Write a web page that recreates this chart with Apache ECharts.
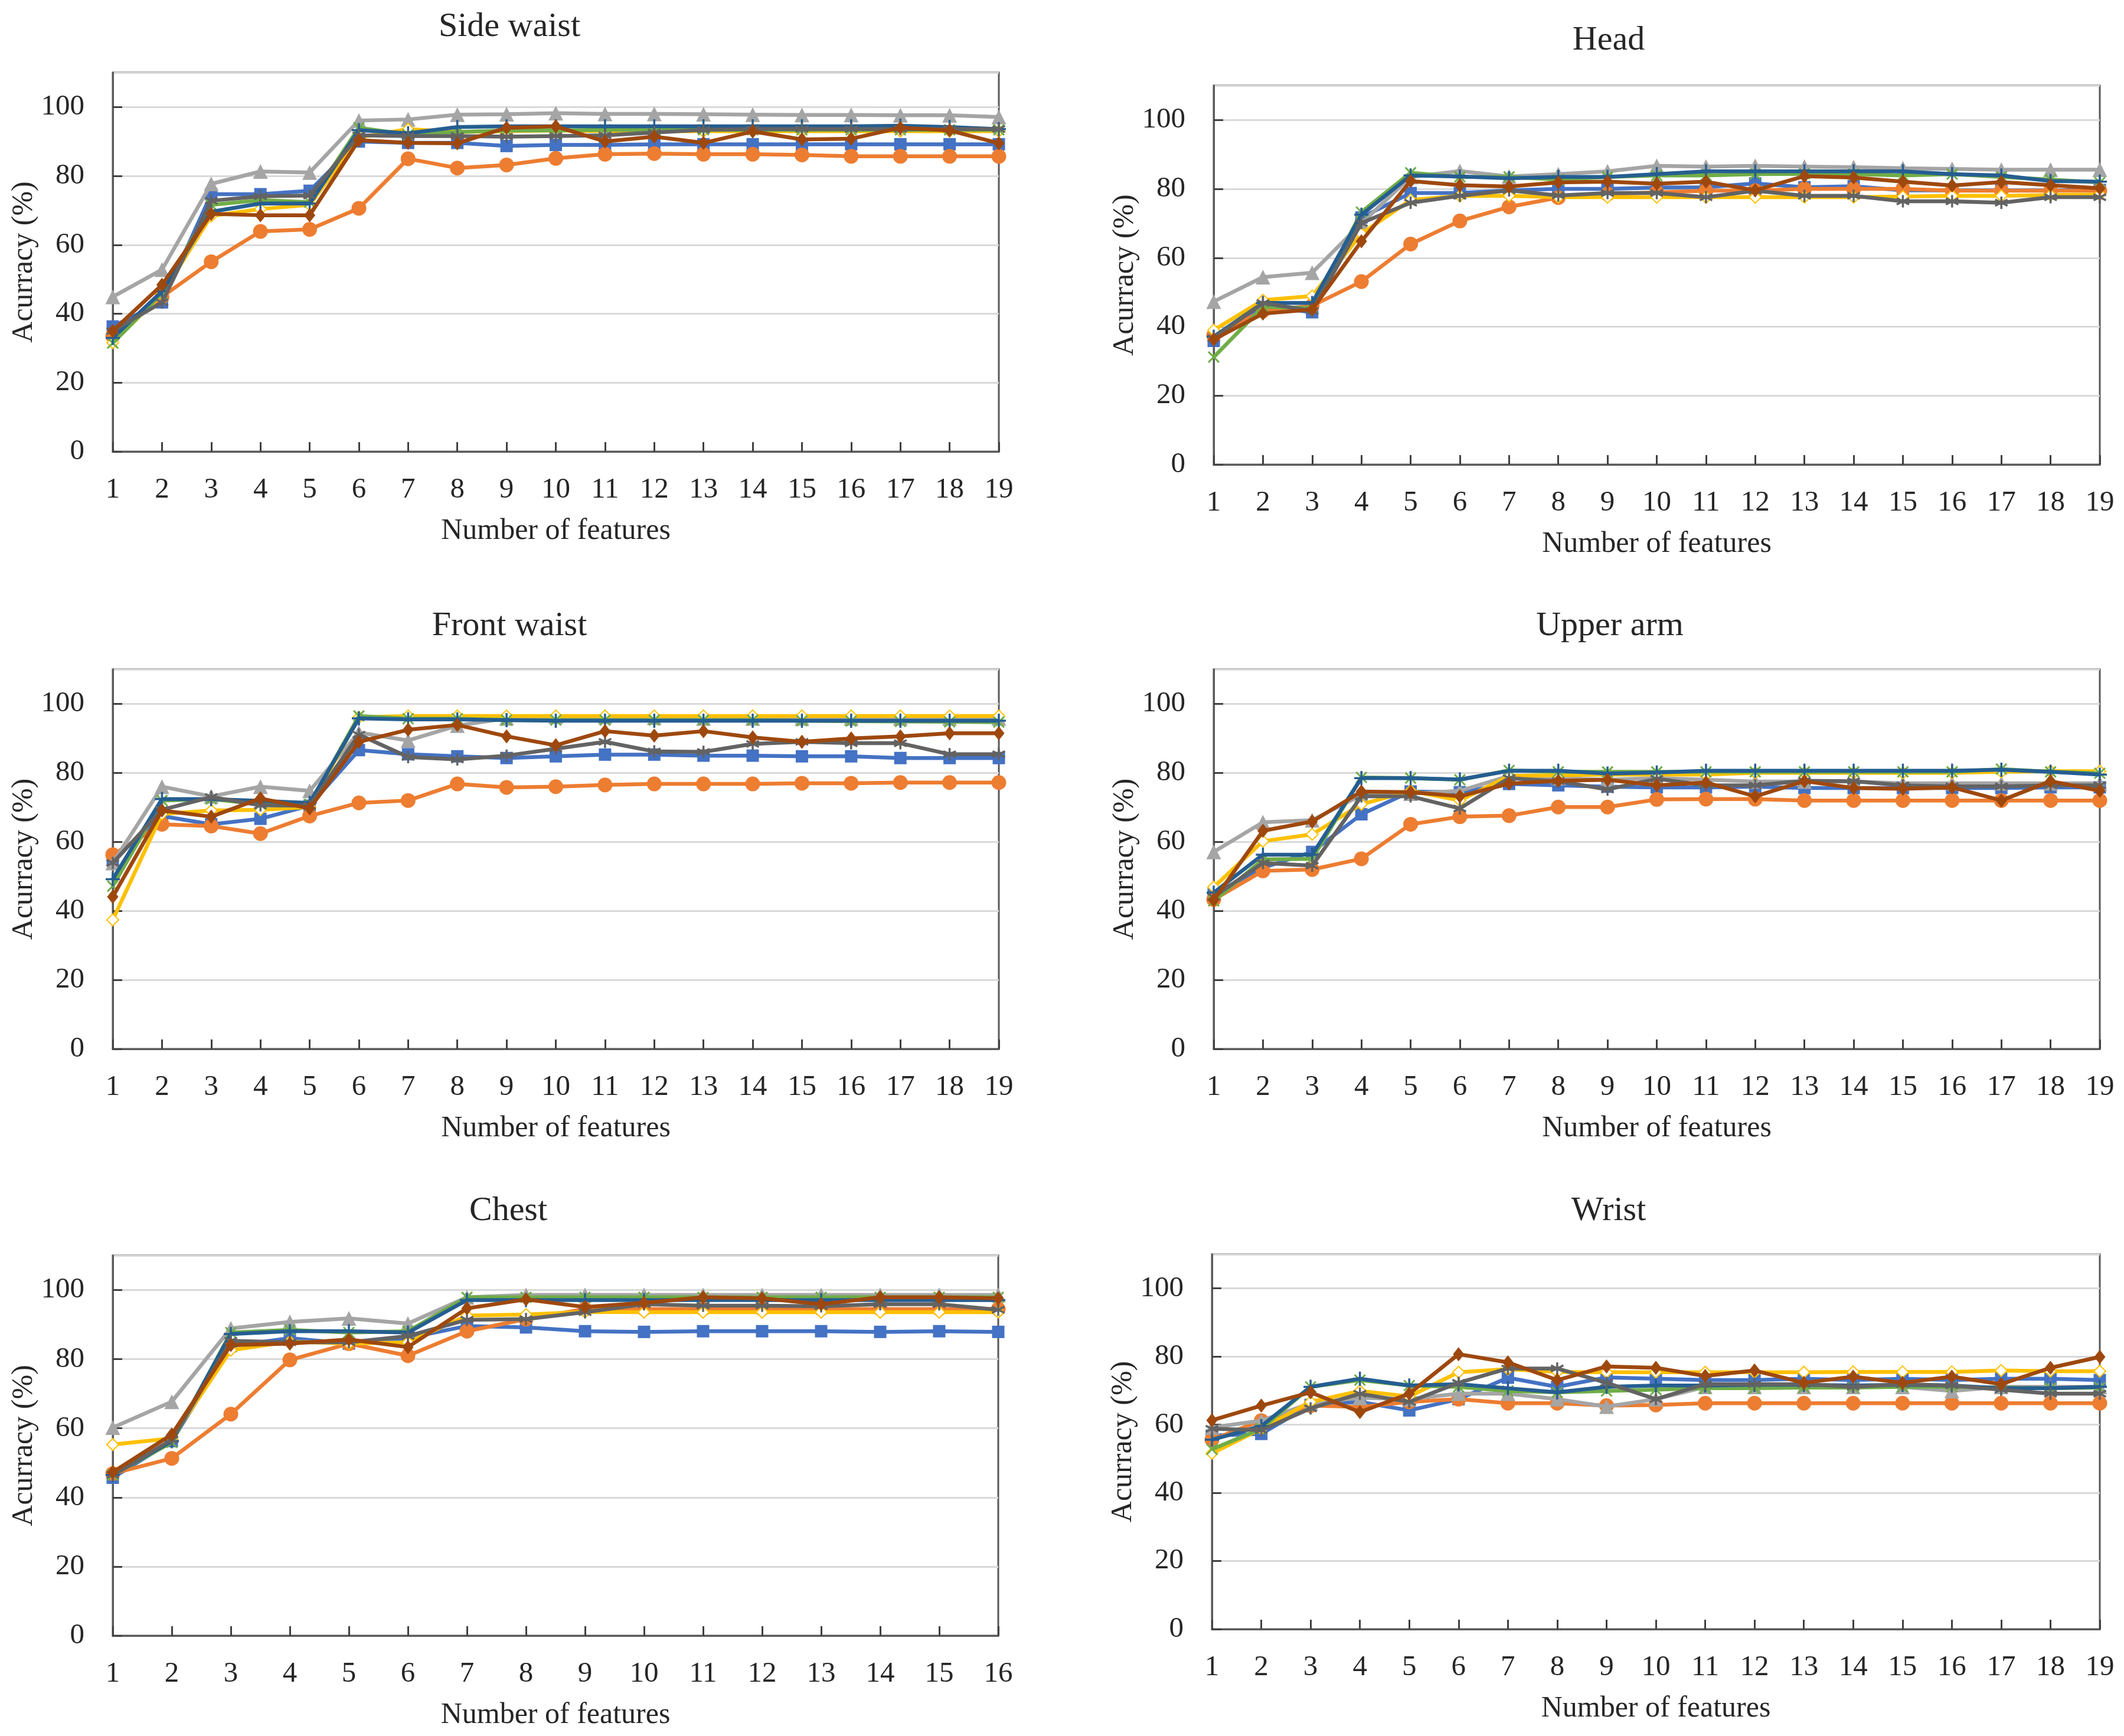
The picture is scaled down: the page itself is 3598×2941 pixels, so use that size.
<!DOCTYPE html>
<html>
<head>
<meta charset="utf-8">
<script src="https://cdn.jsdelivr.net/npm/echarts@6/dist/echarts.min.js"></script>
<style>
html,body{margin:0;padding:0;background:#fff;}
#chart{width:3598px;height:2941px;}
</style>
</head>
<body>
<div id="chart"></div>
<script>
// ---------- categories / tick labels ----------
const features19 = ['1','2','3','4','5','6','7','8','9','10','11','12','13','14','15','16','17','18','19'];
const features16 = ['1','2','3','4','5','6','7','8','9','10','11','12','13','14','15','16'];
const yTicks = [0, 20, 40, 60, 80, 100];

// ---------- Side waist ----------
const sideWaistBlue     = [36.3,43.3,74.7,74.7,75.7,90.0,89.6,89.6,88.7,89.0,89.0,89.2,89.2,89.2,89.2,89.2,89.2,89.2,89.2];
const sideWaistOrange   = [33.5,44.9,55.1,63.9,64.5,70.6,85.0,82.3,83.2,85.1,86.3,86.5,86.3,86.3,86.1,85.7,85.7,85.7,85.7];
const sideWaistGray     = [44.9,52.8,77.7,81.3,81.0,96.1,96.4,97.8,97.9,98.2,98.0,98.0,97.9,97.8,97.7,97.7,97.6,97.6,97.1];
const sideWaistYellow   = [31.6,45.7,68.4,70.4,71.6,91.2,93.6,92.8,93.0,93.2,93.0,93.0,93.0,93.0,93.0,93.0,93.0,93.0,93.0];
const sideWaistGreen    = [31.5,46.0,71.6,73.0,72.4,94.0,92.0,92.8,93.2,93.2,93.4,93.4,93.4,93.4,93.4,93.4,93.4,93.4,93.4];
const sideWaistDarkBlue = [33.0,46.5,69.6,72.0,72.0,93.3,92.4,94.2,94.4,94.4,94.4,94.4,94.4,94.4,94.4,94.4,94.6,94.2,93.6];
const sideWaistDarkGray = [35.0,43.3,72.8,74.1,74.3,91.8,91.6,91.6,91.4,91.6,91.8,92.6,93.4,93.6,93.6,93.6,93.6,93.6,93.6];
const sideWaistBrown    = [35.0,48.4,69.0,68.6,68.6,90.4,89.6,89.5,94.0,94.4,90.0,91.4,89.6,92.9,90.6,90.8,94.0,93.2,89.5];

// ---------- Head ----------
const headBlue     = [35.9,46.0,44.2,71.7,78.8,78.8,79.6,80.0,80.0,80.4,80.5,81.6,80.5,80.8,79.6,79.6,79.6,79.6,79.7];
const headOrange   = [37.5,44.6,46.1,53.1,64.0,70.7,74.8,77.5,78.5,79.0,79.5,79.5,80.0,80.0,80.0,79.5,79.5,79.5,79.5];
const headGray     = [47.3,54.4,55.7,70.0,83.5,85.2,83.6,84.3,85.1,86.7,86.5,86.7,86.5,86.3,86.0,85.8,85.6,85.6,85.6];
const headYellow   = [39.0,47.7,48.9,67.0,76.8,78.0,78.0,77.6,77.6,77.6,77.6,77.6,77.6,77.6,77.8,78.0,78.0,78.2,78.4];
const headGreen    = [31.2,45.8,45.4,73.3,84.7,83.5,83.5,82.7,83.5,83.9,83.9,84.3,84.4,84.3,83.9,84.3,83.5,82.7,81.9];
const headDarkBlue = [37.1,46.9,46.9,72.5,83.9,83.6,83.1,83.5,83.5,84.3,85.1,85.1,85.1,85.1,85.1,84.3,83.9,82.3,82.1];
const headDarkGray = [36.7,46.9,44.6,70.1,76.0,78.0,79.6,78.1,78.8,78.8,77.6,79.5,78.0,78.0,76.4,76.4,76.0,77.6,77.6];
const headBrown    = [36.3,43.8,45.0,64.8,82.3,81.1,80.7,81.9,82.1,81.5,82.1,79.6,83.7,83.3,82.1,81.0,82.0,81.1,80.2];

// ---------- Front waist ----------
const frontWaistBlue     = [54.9,67.5,65.1,66.7,70.5,86.6,85.4,84.8,84.3,84.8,85.3,85.3,85.0,85.0,84.8,84.8,84.3,84.3,84.3];
const frontWaistOrange   = [56.3,65.1,64.6,62.4,67.5,71.3,72.0,76.8,75.8,76.0,76.5,76.8,76.8,76.8,77.0,77.0,77.2,77.2,77.2];
const frontWaistGray     = [53.9,76.0,73.2,76.0,74.8,91.7,89.4,93.7,95.8,96.3,96.3,96.0,95.8,95.8,95.8,95.8,95.8,95.8,95.8];
const frontWaistYellow   = [37.4,68.1,69.1,69.3,70.1,96.1,96.5,96.5,96.5,96.5,96.5,96.5,96.5,96.5,96.5,96.5,96.5,96.5,96.5];
const frontWaistGreen    = [47.2,72.0,72.4,70.9,70.9,96.5,95.7,95.7,95.3,95.3,95.3,95.3,95.3,95.3,95.1,95.0,94.9,94.8,94.7];
const frontWaistDarkBlue = [49.2,72.4,72.4,71.9,71.3,95.8,95.5,95.5,95.3,95.1,95.1,95.1,95.1,95.1,95.1,95.1,95.1,95.1,95.1];
const frontWaistDarkGray = [53.9,69.3,73.0,70.6,70.5,91.1,84.6,83.9,85.0,87.0,89.0,86.2,86.1,88.4,89.0,88.6,88.6,85.4,85.4];
const frontWaistBrown    = [44.1,69.1,67.3,72.6,69.7,89.0,92.5,93.9,90.6,88.0,92.1,90.8,92.1,90.3,89.0,90.0,90.6,91.5,91.5];

// ---------- Upper arm ----------
const upperArmBlue     = [44.9,52.5,57.1,68.0,74.6,74.4,76.8,76.4,76.0,75.8,75.8,76.0,75.6,75.6,75.6,75.6,75.6,75.8,75.8];
const upperArmOrange   = [43.3,51.6,52.0,55.1,65.1,67.3,67.6,70.1,70.1,72.3,72.4,72.4,72.0,72.0,72.0,72.0,72.0,72.0,72.0];
const upperArmGray     = [57.1,65.7,66.3,73.6,74.0,74.8,79.1,78.5,78.0,78.5,78.0,77.5,77.5,77.5,77.0,77.0,77.0,77.0,77.0];
const upperArmYellow   = [46.9,60.2,62.2,70.9,74.8,72.0,79.1,79.3,79.5,79.5,79.5,80.0,80.0,80.0,80.0,80.0,80.3,80.5,80.5];
const upperArmGreen    = [42.9,54.9,55.1,78.7,78.5,78.0,80.7,80.3,80.3,80.3,80.3,80.3,80.3,80.3,80.3,80.3,81.1,80.3,79.9];
const upperArmDarkBlue = [45.3,56.3,56.3,78.5,78.5,78.1,80.6,80.6,79.8,80.1,80.6,80.6,80.6,80.6,80.6,80.6,80.9,80.3,79.5];
const upperArmDarkGray = [44.1,53.9,53.1,73.2,73.2,69.7,78.5,77.6,75.2,78.3,76.4,76.4,77.7,77.6,76.4,76.1,76.1,76.4,76.4];
const upperArmBrown    = [43.1,63.2,65.9,74.6,74.4,73.2,76.9,77.7,78.0,76.4,77.2,73.2,77.6,75.6,75.4,75.8,72.0,77.6,74.8];

// ---------- Chest ----------
const chestBlue     = [45.7,56.3,83.8,86.1,84.5,86.1,89.6,89.2,88.1,87.9,88.1,88.1,88.1,87.9,88.1,87.9];
const chestOrange   = [46.9,51.3,64.1,79.8,84.5,81.0,88.1,91.6,94.5,94.5,94.5,94.5,94.5,94.5,94.5,94.5];
const chestGray     = [60.2,67.7,88.9,90.8,91.8,90.3,97.9,98.6,98.6,98.6,98.6,98.6,98.6,98.6,98.6,98.6];
const chestYellow   = [55.3,57.1,82.6,85.1,84.5,84.9,92.6,92.9,93.7,93.6,93.6,93.6,93.6,93.6,93.6,93.6];
const chestGreen    = [46.5,55.9,87.7,88.5,87.7,88.1,97.9,97.9,97.9,97.9,97.9,97.9,97.9,97.9,97.9,97.9];
const chestDarkBlue = [46.5,56.3,87.3,88.1,88.1,87.7,97.1,97.1,97.1,97.1,97.1,97.1,97.1,97.1,97.1,97.1];
const chestDarkGray = [46.5,56.7,85.3,84.9,84.9,86.7,91.4,91.6,93.6,95.9,95.5,95.5,95.3,95.9,95.9,94.3];
const chestBrown    = [47.3,58.2,84.1,84.5,85.7,83.5,94.7,97.3,95.1,96.3,97.9,97.6,95.9,97.9,97.9,97.6];

// ---------- Wrist ----------
const wristBlue     = [56.8,57.3,65.8,66.7,64.2,67.5,73.8,71.1,73.9,73.5,73.1,73.1,73.5,73.1,73.5,73.1,73.5,73.5,73.1];
const wristOrange   = [55.6,61.2,65.6,65.2,66.7,67.5,66.3,66.3,65.6,65.8,66.3,66.3,66.3,66.3,66.3,66.3,66.3,66.3,66.3];
const wristGray     = [59.2,61.2,66.3,67.9,67.5,69.1,69.1,67.5,65.3,67.5,71.1,71.1,71.1,71.1,71.1,69.9,71.1,71.1,71.1];
const wristYellow   = [51.6,58.8,66.7,69.9,68.3,75.4,76.3,75.5,75.4,75.4,75.4,75.4,75.4,75.5,75.5,75.5,75.9,75.7,75.7];
const wristGreen    = [52.8,58.8,71.1,73.1,71.5,71.1,69.9,69.5,69.9,70.3,70.7,70.7,70.9,70.9,71.1,71.1,70.9,70.7,70.9];
const wristDarkBlue = [55.6,59.6,71.1,73.5,71.5,71.9,70.7,69.5,71.1,71.5,71.5,71.7,71.7,71.5,71.7,71.5,70.7,70.7,71.1];
const wristDarkGray = [58.8,58.4,64.8,69.1,66.7,72.3,76.5,76.5,72.3,67.5,71.9,71.9,71.9,71.1,71.9,71.5,70.3,69.1,69.1];
const wristBrown    = [61.3,65.6,69.5,63.7,69.1,80.7,78.3,73.1,77.1,76.7,74.3,75.9,72.3,74.1,72.3,74.1,71.9,76.7,79.9];

const titles = ['Side waist', 'Head', 'Front waist', 'Upper arm', 'Chest', 'Wrist'];
const xAxisName = 'Number of features';
const yAxisName = 'Acurracy (%)';

// ---------- series values per panel (order: blue, orange, gray, yellow, green, dark blue, dark gray, brown) ----------
const panelData = [
  [sideWaistBlue, sideWaistOrange, sideWaistGray, sideWaistYellow, sideWaistGreen, sideWaistDarkBlue, sideWaistDarkGray, sideWaistBrown],
  [headBlue, headOrange, headGray, headYellow, headGreen, headDarkBlue, headDarkGray, headBrown],
  [frontWaistBlue, frontWaistOrange, frontWaistGray, frontWaistYellow, frontWaistGreen, frontWaistDarkBlue, frontWaistDarkGray, frontWaistBrown],
  [upperArmBlue, upperArmOrange, upperArmGray, upperArmYellow, upperArmGreen, upperArmDarkBlue, upperArmDarkGray, upperArmBrown],
  [chestBlue, chestOrange, chestGray, chestYellow, chestGreen, chestDarkBlue, chestDarkGray, chestBrown],
  [wristBlue, wristOrange, wristGray, wristYellow, wristGreen, wristDarkBlue, wristDarkGray, wristBrown]
];
const panelCats = [features19, features19, features19, features19, features16, features19];

// ---------- layout (pixels) ----------
const gridBoxes = [
  {left: 191,  top: 123,  width: 1501, height: 642},
  {left: 2056, top: 145,  width: 1501, height: 642},
  {left: 191,  top: 1134, width: 1501, height: 643},
  {left: 2056, top: 1134, width: 1501, height: 643},
  {left: 191,  top: 2127, width: 1500, height: 644},
  {left: 2053, top: 2125, width: 1504, height: 635}
];
const titlePos = [
  {x: 858,  y: 12},
  {x: 2720, y: 35},
  {x: 858,  y: 1027},
  {x: 2722, y: 1027},
  {x: 856,  y: 2018},
  {x: 2720, y: 2018}
];

const FONT = '"Liberation Serif", "DejaVu Serif", serif';
const TXT = '#262626';

// series styles
const styles = [
  {name: 'S1', color: '#4472C4', symbol: 'rect', size: 21},
  {name: 'S2', color: '#ED7D31', symbol: 'circle', size: 25},
  {name: 'S3', color: '#A5A5A5', symbol: 'triangle', size: 25},
  {name: 'S4', color: '#FFC000', symbol: 'emptyDiamond', size: 20, border: 3},
  {name: 'S5', color: '#70AD47', symbol: 'path://M0,0L10,10M10,0L0,10', size: 18, border: 3},
  {name: 'S6', color: '#255E91', symbol: 'path://M5,0L5,10M0,5L10,5', size: 24, border: 3.5},
  {name: 'S7', color: '#636363', symbol: 'path://M5,0L5,10M0.7,2.5L9.3,7.5M0.7,7.5L9.3,2.5', size: 21, border: 3.5},
  {name: 'S8', color: '#9E480E', symbol: 'diamond', size: [19, 24]}
];

const grids = [], xAxes = [], yAxes = [], series = [], titleArr = [];
gridBoxes.forEach((g, i) => {
  grids.push({left: g.left, top: g.top, width: g.width, height: g.height,
    show: true, borderColor: '#595959', borderWidth: 3, backgroundColor: 'transparent'});
  titleArr.push({text: titles[i], left: titlePos[i].x, top: titlePos[i].y, textAlign: 'center',
    textStyle: {fontFamily: FONT, fontSize: 58, fontWeight: 'normal', color: TXT}});
  xAxes.push({
    type: 'category', gridIndex: i, data: panelCats[i], boundaryGap: false,
    name: xAxisName, nameLocation: 'middle', nameGap: 110,
    nameTextStyle: {fontFamily: FONT, fontSize: 50, color: TXT},
    axisLine: {lineStyle: {color: '#595959', width: 3}},
    axisTick: {inside: true, length: 16, lineStyle: {color: '#404040', width: 3}},
    axisLabel: {fontFamily: FONT, fontSize: 49, color: TXT, margin: 41, interval: 0},
    splitLine: {show: false}
  });
  yAxes.push({
    type: 'value', gridIndex: i, min: yTicks[0], max: 110, interval: yTicks[1] - yTicks[0],
    name: yAxisName, nameLocation: 'middle', nameGap: 125,
    nameTextStyle: {fontFamily: FONT, fontSize: 50, color: TXT},
    axisLine: {show: true, lineStyle: {color: '#595959', width: 3}},
    axisTick: {show: true, inside: true, length: 16, lineStyle: {color: '#404040', width: 3}},
    axisLabel: {fontFamily: FONT, fontSize: 49, color: TXT, margin: 48, showMaxLabel: false},
    splitLine: {show: true, lineStyle: {color: '#D9D9D9', width: 3}}
  });
  panelData[i].forEach((vals, k) => {
    const s = styles[k];
    series.push({
      type: 'line', name: s.name, xAxisIndex: i, yAxisIndex: i,
      data: vals, symbol: s.symbol, symbolSize: s.size, showSymbol: true,
      lineStyle: {color: s.color, width: 6.5},
      itemStyle: {color: s.color, borderColor: s.color, borderWidth: s.border || 0},
      z: 2 + k, animation: false, silent: true
    });
  });
});

const chart = echarts.init(document.getElementById('chart'), null, {renderer: 'canvas'});
chart.setOption({
  backgroundColor: '#ffffff',
  animation: false,
  title: titleArr,
  grid: grids,
  xAxis: xAxes,
  yAxis: yAxes,
  series: series
});
</script>
</body>
</html>
